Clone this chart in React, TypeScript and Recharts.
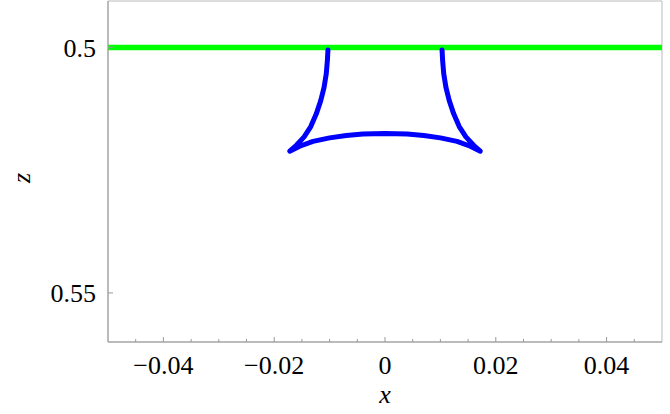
import React from "react";
import { LineChart, Line, XAxis, YAxis, ReferenceArea } from "recharts";

// caustic curve, in drawing order
const curveX = [
  -0.0103, -0.0104, -0.0106, -0.011, -0.0116, -0.0124, -0.0134, -0.0146, -0.016, -0.0172,
  -0.0154, -0.013, -0.01, -0.007, -0.004, 0,
  0.004, 0.007, 0.01, 0.013, 0.0154,
  0.0172, 0.016, 0.0146, 0.0134, 0.0124, 0.0116, 0.011, 0.0106, 0.0104, 0.0103,
];
const curveZ = [
  0.5005, 0.5026, 0.5053, 0.5081, 0.5108, 0.5135, 0.5161, 0.5182, 0.5199, 0.5211,
  0.5201, 0.5191, 0.5184, 0.5179, 0.5176, 0.5175,
  0.5176, 0.5179, 0.5184, 0.5191, 0.5201,
  0.5211, 0.5199, 0.5182, 0.5161, 0.5135, 0.5108, 0.5081, 0.5053, 0.5026, 0.5005,
];
const planeX = [-0.05, 0.05];
const planeZ = [0.5, 0.5];

const xTicks = [
  -0.05, -0.045, -0.04, -0.035, -0.03, -0.025, -0.02, -0.015, -0.01, -0.005, 0,
  0.005, 0.01, 0.015, 0.02, 0.025, 0.03, 0.035, 0.04, 0.045, 0.05,
];
const xLabels = [-0.04, -0.02, 0, 0.02, 0.04];
const yTicks = [0.5, 0.55];

const curve = curveX.map((x, i) => ({ x, z: curveZ[i] }));
const plane = planeX.map((x, i) => ({ x, z: planeZ[i] }));

const font = "'Liberation Serif', 'DejaVu Serif', serif";
const fmt = (v: number) => {
  const s = String(Math.abs(Math.round(v * 1000) / 1000));
  return (v < 0 ? "\u2212" : "") + s;
};

function XTick(props: any) {
  const { x, y, payload } = props;
  const v = payload.value;
  const major = xLabels.some((l) => Math.abs(l - v) < 1e-9);
  if (Math.abs(Math.abs(v) - 0.05) < 1e-9) return null;
  return (
    <g>
      <line x1={x} y1={y} x2={x} y2={y - (major ? 5 : 3)} stroke="#999" strokeWidth={1} />
      {major && (
        <text x={x} y={y + 32} textAnchor="middle" style={{ fontFamily: font }} fontSize={26} fill="#000">
          {fmt(v)}
        </text>
      )}
    </g>
  );
}

function YTick(props: any) {
  const { x, y, payload } = props;
  return (
    <g>
      <line x1={x} y1={y} x2={x + 5} y2={y} stroke="#999" strokeWidth={1} />
      <text x={x - 12} y={y + 9} textAnchor="end" style={{ fontFamily: font }} fontSize={26} fill="#000">
        {payload.value}
      </text>
    </g>
  );
}

export default function App() {
  return (
    <div style={{ position: "absolute", left: 0, top: 0, width: 670, height: 414, background: "#fff" }}>
      <LineChart width={670} height={414} margin={{ top: 1, right: 8, left: 0, bottom: 0 }}>
        <XAxis
          type="number"
          dataKey="x"
          domain={[-0.05, 0.05]}
          ticks={xTicks}
          interval={0}
          height={72}
          tickSize={0}
          tickMargin={0}
          tickLine={false}
          axisLine={{ stroke: "#999" }}
          tick={<XTick />}
          allowDataOverflow
        />
        <YAxis
          type="number"
          dataKey="z"
          domain={[0.4905, 0.56]}
          reversed
          ticks={yTicks}
          interval={0}
          width={108}
          tickSize={0}
          tickMargin={0}
          tickLine={false}
          axisLine={{ stroke: "#999" }}
          tick={<YTick />}
          allowDataOverflow
        />
        <ReferenceArea x1={-0.05} x2={0.05} y1={0.4905} y2={0.56} fill="none" stroke="#bbb" strokeWidth={1} ifOverflow="visible" />
        <Line
          data={plane}
          dataKey="z"
          stroke="#00ff00"
          strokeWidth={5.5}
          dot={false}
          isAnimationActive={false}
          type="linear"
        />
        <Line
          data={curve}
          dataKey="z"
          stroke="#0000ff"
          strokeWidth={5}
          strokeLinecap="round"
          strokeLinejoin="round"
          dot={false}
          isAnimationActive={false}
          type="linear"
        />
      </LineChart>
      <div
        style={{
          position: "absolute",
          left: 0,
          top: 382,
          width: 770,
          textAlign: "center",
          fontFamily: font,
          fontStyle: "italic",
          fontSize: 26,
          lineHeight: "26px",
          color: "#000",
        }}
      >
        x
      </div>
      <div
        style={{
          position: "absolute",
          left: 22,
          top: 178,
          transform: "translate(-50%, -50%) rotate(-90deg)",
          fontFamily: font,
          fontStyle: "italic",
          fontSize: 26,
          lineHeight: "26px",
          color: "#000",
        }}
      >
        z
      </div>
    </div>
  );
}
